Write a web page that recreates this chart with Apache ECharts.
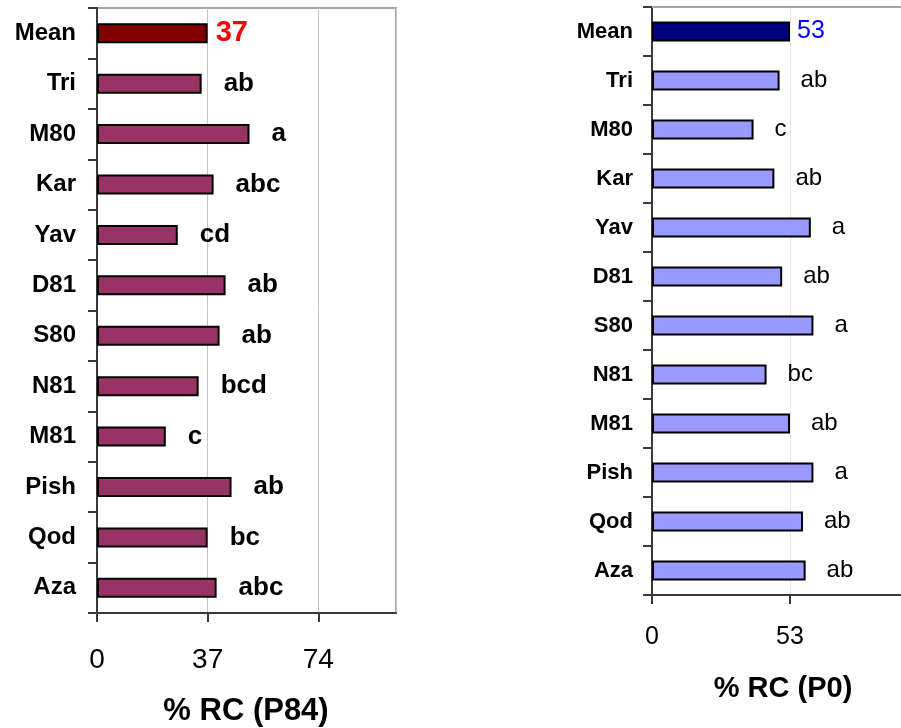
<!DOCTYPE html>
<html>
<head>
<meta charset="utf-8">
<script src="https://cdn.jsdelivr.net/npm/echarts@6/dist/echarts.min.js"></script>
<style>
  html, body { margin: 0; padding: 0; background: #ffffff; }
  #chart { width: 901px; height: 728px; }
</style>
</head>
<body>
<div id="chart"></div>
<script>
// Cultivars, top to bottom (first row is the overall mean)
const categories = ['Mean', 'Tri', 'M80', 'Kar', 'Yav', 'D81', 'S80', 'N81', 'M81', 'Pish', 'Qod', 'Aza'];

// % RC at P84
const rcP84 = [37, 35, 51, 39, 27, 43, 41, 34, 23, 45, 37, 40];
const lettersP84 = ['37', 'ab', 'a', 'abc', 'cd', 'ab', 'ab', 'bcd', 'c', 'ab', 'bc', 'abc'];

// % RC at P0
const rcP0 = [53, 49, 39, 47, 61, 50, 62, 44, 53, 62, 58, 59];
const lettersP0 = ['53', 'ab', 'c', 'ab', 'a', 'ab', 'a', 'bc', 'ab', 'a', 'ab', 'ab'];

// Value axis ticks
const ticksP84 = { min: 0, max: 100, step: 37 };
const ticksP0 = { min: 0, max: 106, step: 53 };

const FONT = '"Liberation Sans", Arial, sans-serif';

function barData(values, letters, meanColor, barColor, meanLabel, letterLabel) {
  return values.map((v, i) => ({
    value: v,
    itemStyle: { color: i === 0 ? meanColor : barColor },
    label: Object.assign({ formatter: letters[i] }, i === 0 ? meanLabel : letterLabel)
  }));
}

function valueAxis(gridIndex, ticks, labelSize, labelMargin, splitColor) {
  return {
    type: 'value',
    gridIndex: gridIndex,
    min: ticks.min,
    max: ticks.max,
    interval: ticks.step,
    axisLine: { show: true, lineStyle: { color: '#3a3a3a', width: 2 } },
    axisTick: { show: true, inside: false, length: 9, lineStyle: { color: '#3a3a3a', width: 2 } },
    axisLabel: {
      showMaxLabel: false,
      fontFamily: FONT, fontSize: labelSize, color: '#000', margin: labelMargin
    },
    splitLine: { show: true, lineStyle: { color: splitColor, width: 1 } }
  };
}

function categoryAxis(gridIndex, labelSize, labelMargin) {
  return {
    type: 'category',
    gridIndex: gridIndex,
    data: categories,
    inverse: true,
    axisLine: { show: true, lineStyle: { color: '#3a3a3a', width: 2 } },
    axisTick: { show: true, inside: false, length: 9, lineStyle: { color: '#3a3a3a', width: 2 } },
    axisLabel: {
      fontFamily: FONT, fontSize: labelSize, fontWeight: 'bold', color: '#000', margin: labelMargin
    },
    splitLine: { show: false }
  };
}

const chart = echarts.init(document.getElementById('chart'), null, { renderer: 'canvas' });

chart.setOption({
  animation: false,
  backgroundColor: '#ffffff',
  title: [
    {
      text: '% RC (P84)', left: 246, top: 696, textAlign: 'center', padding: 0,
      textStyle: { fontFamily: FONT, fontSize: 31, fontWeight: 'bold', color: '#000' }
    },
    {
      text: '% RC (P0)', left: 783, top: 674, textAlign: 'center', padding: 0,
      textStyle: { fontFamily: FONT, fontSize: 29, fontWeight: 'bold', color: '#000' }
    }
  ],
  grid: [
    { left: 97, top: 8, right: 505, bottom: 115, show: true, borderColor: '#a6a6a6', borderWidth: 2,
      containLabel: false, outerBoundsMode: 'none' },
    // the P0 panel runs past the right edge of the page; only its top edge is framed
    { left: 652, top: 7, right: -27, bottom: 133, show: false,
      containLabel: false, outerBoundsMode: 'none' }
  ],
  xAxis: [
    valueAxis(0, ticksP84, 28, 33, '#c4c4c4'),
    valueAxis(1, ticksP0, 25, 30, '#e6e6f2'),
    {
      type: 'value', gridIndex: 1, position: 'top',
      min: ticksP0.min, max: ticksP0.max, interval: ticksP0.step,
      axisLine: { show: true, lineStyle: { color: '#a6a6a6', width: 2 } },
      axisTick: { show: false }, axisLabel: { show: false }, splitLine: { show: false }
    }
  ],
  yAxis: [
    categoryAxis(0, 24, 21),
    categoryAxis(1, 22, 19)
  ],
  series: [
    {
      type: 'bar',
      xAxisIndex: 0,
      yAxisIndex: 0,
      barWidth: 20,
      itemStyle: { borderColor: '#000', borderWidth: 2 },
      label: { show: true, position: 'right', color: '#000', fontFamily: FONT },
      data: barData(rcP84, lettersP84, '#800000', '#993366',
        { color: '#ff0000', fontSize: 29, fontWeight: 'bold', distance: 8 },
        { color: '#000', fontSize: 26, fontWeight: 'bold', distance: 22 })
    },
    {
      type: 'bar',
      xAxisIndex: 1,
      yAxisIndex: 1,
      barWidth: 20,
      itemStyle: { borderColor: '#000', borderWidth: 2 },
      label: { show: true, position: 'right', color: '#000', fontFamily: FONT },
      data: barData(rcP0, lettersP0, '#000080', '#9999ff',
        { color: '#0000ff', fontSize: 25, fontWeight: 'normal', distance: 7 },
        { color: '#000', fontSize: 24, fontWeight: 'normal', distance: 21 })
    }
  ]
});
</script>
</body>
</html>
